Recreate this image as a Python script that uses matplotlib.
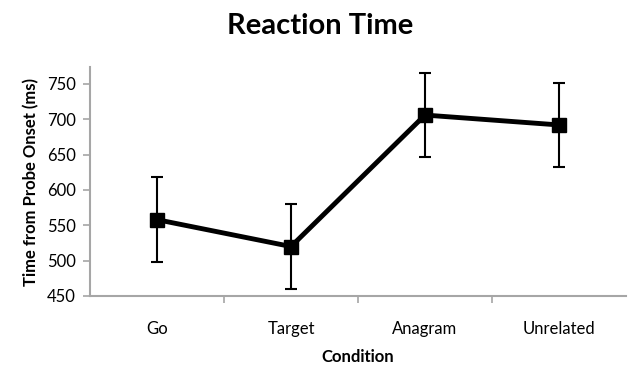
import numpy as np
import matplotlib
matplotlib.use("Agg")
import matplotlib.pyplot as plt

plt.rcParams["font.family"] = ["Lato", "DejaVu Sans"]

conditions = ["Go", "Target", "Anagram", "Unrelated"]
rt_mean = [558, 520, 706, 692]
rt_err = [60, 60, 60, 60]

GRAY = "#a6a6a6"

fig = plt.figure(figsize=(6.35, 3.7), dpi=100)
ax = fig.add_axes([90 / 635, 1 - 296 / 370, 536 / 635, 229 / 370])

x = np.arange(len(conditions))
ax.errorbar(x, rt_mean, yerr=rt_err, color="black", lw=3.5, marker="s",
            markersize=10, ecolor="black", elinewidth=1.5, capsize=4, capthick=1.5)

ax.set_xlim(-0.5, len(conditions) - 0.5)
ax.set_ylim(450, 774)
ax.set_yticks(np.arange(450, 751, 50))
ax.set_xticks(x)
ax.set_xticklabels(conditions)
ax.set_xticks(np.arange(0.5, len(conditions) - 1, 1), minor=True)

for s in ["top", "right"]:
    ax.spines[s].set_visible(False)
for s in ["left", "bottom"]:
    ax.spines[s].set_color(GRAY)
    ax.spines[s].set_linewidth(1.5)

ax.tick_params(axis="y", colors=GRAY, labelcolor="black", length=5, width=1.2, labelsize=12, pad=5)
ax.tick_params(axis="x", which="major", length=0, labelsize=12, pad=18)
ax.tick_params(axis="x", which="minor", colors=GRAY, length=5, width=1.2)

ax.set_xlabel("Condition", fontsize=12, weight="bold", labelpad=9)
ax.set_ylabel("Time from Probe Onset (ms)", fontsize=12, weight="bold", labelpad=6)
fig.suptitle("Reaction Time", x=0.504, y=0.965, fontsize=21, weight="bold")

fig.savefig("out.png", dpi=100)
